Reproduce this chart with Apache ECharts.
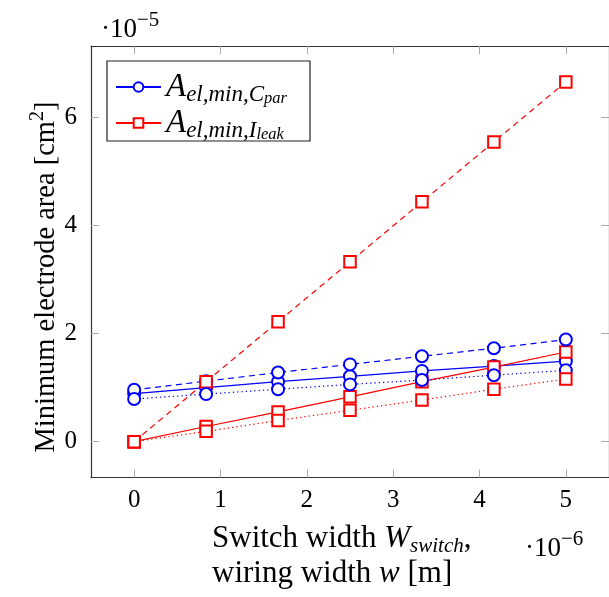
<!DOCTYPE html>
<html><head><meta charset="utf-8">
<script src="https://cdn.jsdelivr.net/npm/echarts@6/dist/echarts.min.js"></script>
<style>html,body{margin:0;padding:0;background:#fff}#c{width:609px;height:597px}</style>
</head><body><div id="c"></div>
<script>
// x in units of 1e-6 m, y in units of 1e-5 cm^2
const xValues = [0, 0.8333, 1.6667, 2.5, 3.3333, 4.1667, 5];
const cparSolid = [0.89, 1.00, 1.11, 1.21, 1.31, 1.40, 1.49];
const cparDashed = [0.96, 1.12, 1.28, 1.43, 1.58, 1.73, 1.89];
const cparDotted = [0.79, 0.88, 0.97, 1.06, 1.14, 1.23, 1.32];
const ileakSolid = [0, 0.28, 0.55, 0.83, 1.11, 1.38, 1.66];
const ileakDashed = [0, 1.11, 2.22, 3.33, 4.44, 5.55, 6.66];
const ileakDotted = [0, 0.19, 0.39, 0.58, 0.77, 0.97, 1.16];
const xTicks = [0, 1, 2, 3, 4, 5];
const yTicks = [0, 2, 4, 6];

const FONT = 'Liberation Serif';
const BLUE = '#0000ff', RED = '#ff0000';

function mk(name, data, color, symbol, lineType, z) {
  return {
    name, type: 'line', z,
    data: xValues.map((x, i) => [x, data[i]]),
    symbol, symbolSize: symbol === 'rect' ? 11.5 : 12,
    itemStyle: { color: '#fff', borderColor: color, borderWidth: 2 },
    lineStyle: { color, width: 1.2, type: lineType },
    emphasis: { disabled: true },
    animation: false
  };
}
const dash = [6, 4.5], dot = [1.3, 3];

const chart = echarts.init(document.getElementById('c'), null, { renderer: 'canvas' });

const axisLineStyle = { color: '#333', width: 1.2 };
const tickStyle = { color: '#aaa', width: 1 };

const supRich = {
  m: { fontFamily: FONT, fontSize: 27, lineHeight: 28, verticalAlign: 'top', padding: [8, 0, 0, 0], fill: '#000' },
  s: { fontFamily: FONT, fontSize: 21, lineHeight: 21, verticalAlign: 'top', padding: [2, 0, 0, 0], fill: '#000' }
};

chart.setOption({
  backgroundColor: '#fff',
  animation: false,
  grid: { left: 91, top: 46, width: 519.6, height: 431.6 },
  xAxis: [
    { type: 'value', min: -0.5, max: 5.5, position: 'bottom',
      axisLine: { show: true, onZero: false, lineStyle: axisLineStyle },
      axisTick: { show: true, inside: true, length: 8, customValues: xTicks, lineStyle: tickStyle },
      axisLabel: { show: true, customValues: xTicks, margin: 10, fontFamily: FONT, fontSize: 25, color: '#000' },
      splitLine: { show: false } },
    { type: 'value', min: -0.5, max: 5.5, position: 'top',
      axisLine: { show: true, onZero: false, lineStyle: axisLineStyle },
      axisTick: { show: true, inside: true, length: 8, customValues: xTicks, lineStyle: tickStyle },
      axisLabel: { show: false }, splitLine: { show: false } }
  ],
  yAxis: [
    { type: 'value', min: -0.666, max: 7.326, position: 'left',
      axisLine: { show: true, onZero: false, lineStyle: axisLineStyle },
      axisTick: { show: true, inside: true, length: 8, customValues: yTicks, lineStyle: tickStyle },
      axisLabel: { show: true, customValues: yTicks, margin: 14, fontFamily: FONT, fontSize: 25, color: '#000' },
      splitLine: { show: false } },
    { type: 'value', min: -0.666, max: 7.326, position: 'right',
      axisLine: { show: true, onZero: false, lineStyle: axisLineStyle },
      axisTick: { show: true, inside: true, length: 8, customValues: yTicks, lineStyle: tickStyle },
      axisLabel: { show: false }, splitLine: { show: false } }
  ],
  legend: {
    data: ['cpar', 'ileak'],
    orient: 'vertical', left: 110, top: 66, itemGap: 0,
    itemWidth: 45, itemHeight: 12, selectedMode: false, z: 12,
    formatter: n => n === 'cpar' ? '{a|A}{b|el,min,C}{c|par}' : '{a|A}{b|el,min,I}{c|leak}',
    textStyle: {
      fontFamily: FONT, color: '#000',
      rich: {
        a: { fontFamily: FONT, fontStyle: 'italic', fontSize: 33, lineHeight: 32, verticalAlign: 'top', color: '#000' },
        b: { fontFamily: FONT, fontStyle: 'italic', fontSize: 23, lineHeight: 22, verticalAlign: 'top', padding: [12, 0, 0, 0], color: '#000' },
        c: { fontFamily: FONT, fontStyle: 'italic', fontSize: 16.5, lineHeight: 16, verticalAlign: 'top', padding: [19, 0, 0, 0], color: '#000' }
      }
    }
  },
  graphic: [
    { type: 'rect', z: 10, shape: { x: 107, y: 61, width: 203, height: 80 },
      style: { fill: '#fff', stroke: '#222', lineWidth: 1.2 } },
    { type: 'text', x: 101, y: 8, z: 10,
      style: { text: '{m|·10}{s|−5}', textAlign: 'left', rich: supRich } },
    { type: 'text', x: 525, y: 527, z: 10,
      style: { text: '{m|·10}{s|−6}', textAlign: 'left', rich: supRich } },
    { type: 'text', x: 41, y: 277, rotation: Math.PI / 2, z: 10,
      style: { text: '{m|Minimum electrode area [cm}{s|2}{m|]}', textAlign: 'center', textVerticalAlign: 'middle',
        rich: {
          m: { fontFamily: FONT, fontSize: 28.5, lineHeight: 29, verticalAlign: 'top', padding: [6, 0, 0, 0], fill: '#000' },
          s: { fontFamily: FONT, fontSize: 20, lineHeight: 20, verticalAlign: 'top', padding: [1, 0, 0, 0], fill: '#000' }
        } } },
    { type: 'text', x: 212, y: 523, z: 10,
      style: { text: '{m|Switch width }{i|W}{s|switch}{m|,}', textAlign: 'left',
        rich: {
          m: { fontFamily: FONT, fontSize: 31, lineHeight: 33, verticalAlign: 'top', fill: '#000' },
          i: { fontFamily: FONT, fontStyle: 'italic', fontSize: 31, lineHeight: 33, verticalAlign: 'top', fill: '#000' },
          s: { fontFamily: FONT, fontStyle: 'italic', fontSize: 21, lineHeight: 21, verticalAlign: 'top', padding: [13, 0, 0, 0], fill: '#000' }
        } } },
    { type: 'text', x: 212, y: 558, z: 10,
      style: { text: '{m|wiring width }{i|w}{m| [m]}', textAlign: 'left',
        rich: {
          m: { fontFamily: FONT, fontSize: 31, lineHeight: 33, verticalAlign: 'top', fill: '#000' },
          i: { fontFamily: FONT, fontStyle: 'italic', fontSize: 31, lineHeight: 33, verticalAlign: 'top', fill: '#000' }
        } } }
  ],
  series: [
    mk('cpar', cparSolid, BLUE, 'circle', 'solid', 3),
    mk('ileak', ileakSolid, RED, 'rect', 'solid', 3),
    mk('cpar-dashed', cparDashed, BLUE, 'circle', dash, 3),
    mk('ileak-dashed', ileakDashed, RED, 'rect', dash, 3),
    mk('cpar-dotted', cparDotted, BLUE, 'circle', dot, 3),
    mk('ileak-dotted', ileakDotted, RED, 'rect', dot, 3)
  ]
});
</script>
</body></html>
